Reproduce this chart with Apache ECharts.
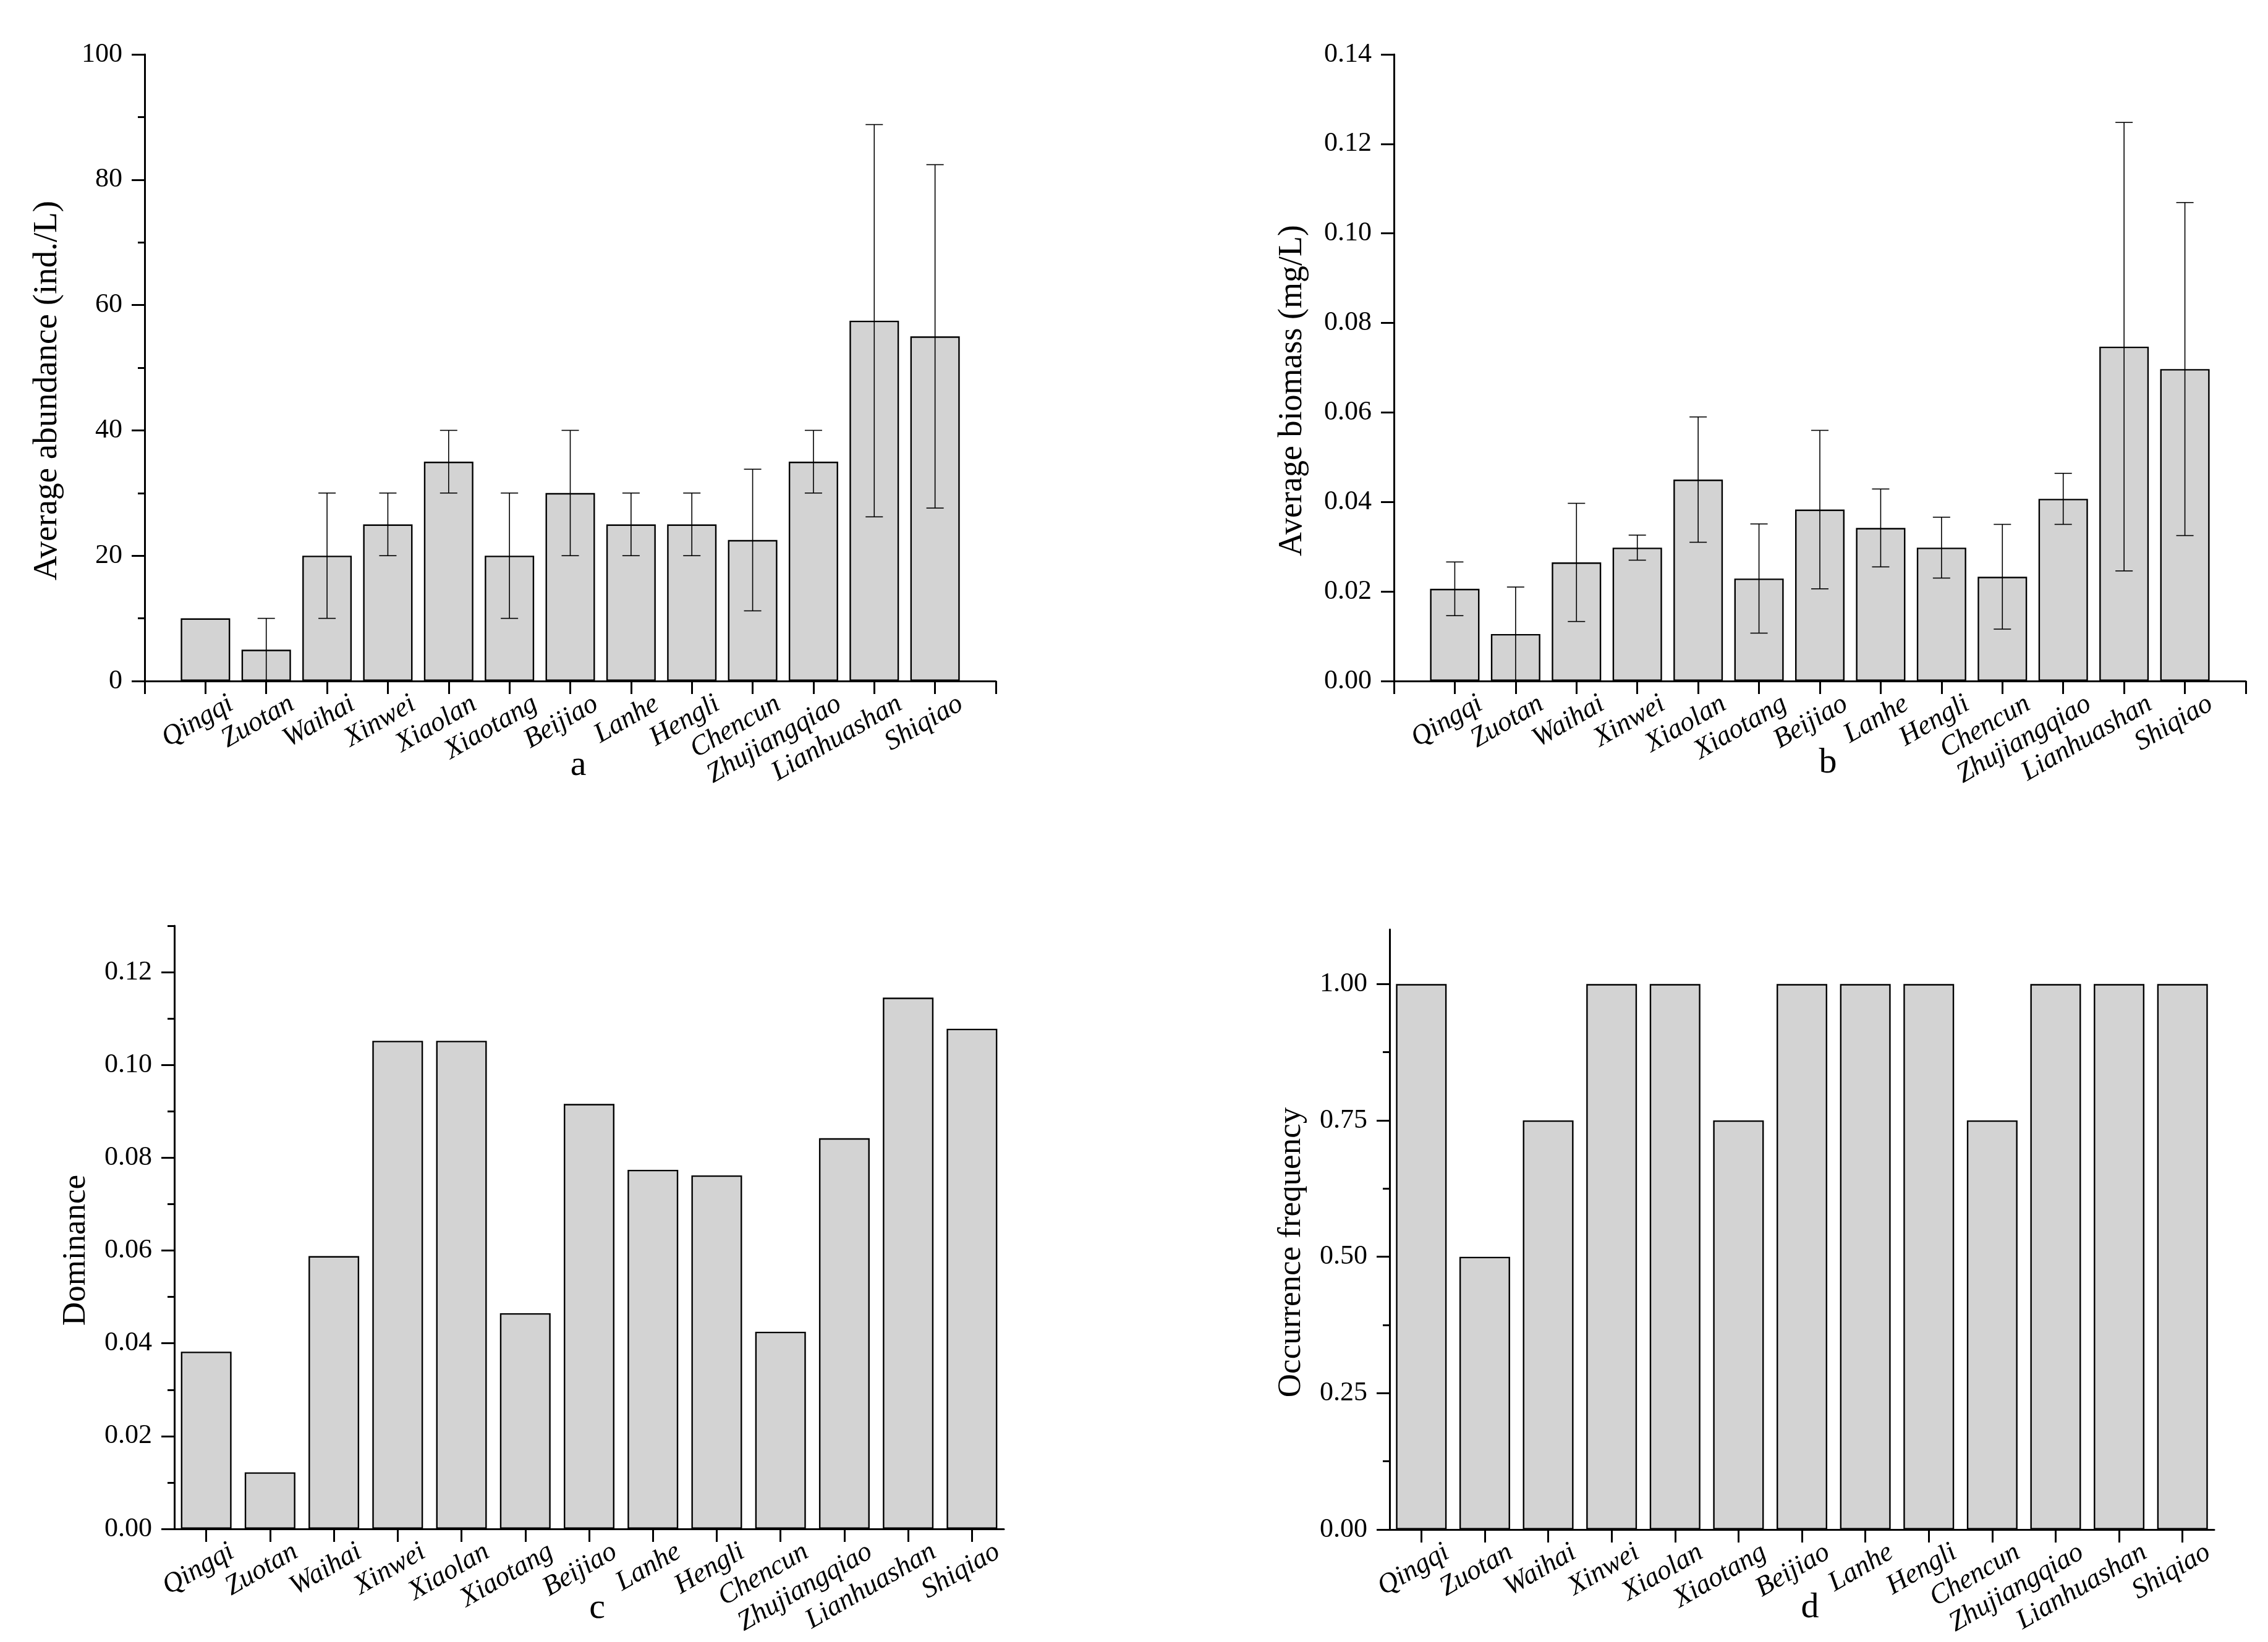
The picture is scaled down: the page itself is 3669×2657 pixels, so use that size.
<!DOCTYPE html>
<html><head><meta charset="utf-8">
<script src="https://cdn.jsdelivr.net/npm/echarts@6/dist/echarts.min.js"></script>
<style>html,body{margin:0;padding:0;background:#fff}#c{width:3669px;height:2657px}</style>
</head><body><div id="c"></div>
<script>
const categories = ['Qingqi','Zuotan','Waihai','Xinwei','Xiaolan','Xiaotang','Beijiao','Lanhe','Hengli','Chencun','Zhujiangqiao','Lianhuashan','Shiqiao'];

const abundance    = [10, 5, 20, 25, 35, 20, 30, 25, 25, 22.5, 35, 57.5, 55];
const abundanceErr = [0, 5, 10, 5, 5, 10, 10, 5, 5, 11.3, 5, 31.3, 27.4];

const biomass    = [0.0206, 0.0105, 0.0265, 0.0298, 0.0450, 0.0229, 0.0383, 0.0342, 0.0298, 0.0233, 0.0407, 0.0747, 0.0697];
const biomassErr = [0.0060, 0.0105, 0.0132, 0.0028, 0.0140, 0.0122, 0.0177, 0.0087, 0.0068, 0.0117, 0.0057, 0.0501, 0.0372];

const dominance = [0.0382, 0.0122, 0.0588, 0.1052, 0.1052, 0.0465, 0.0916, 0.0774, 0.0762, 0.0425, 0.0842, 0.1145, 0.1078];

const frequency = [1, 0.5, 0.75, 1, 1, 0.75, 1, 1, 1, 0.75, 1, 1, 1];

const aTicks = [0, 20, 40, 60, 80, 100];
const aMinor = [10, 30, 50, 70, 90];
const bTicks = [0, 0.02, 0.04, 0.06, 0.08, 0.10, 0.12, 0.14];
const bMinor = [];
const cTicks = [0, 0.02, 0.04, 0.06, 0.08, 0.10, 0.12];
const cMinor = [0.01, 0.03, 0.05, 0.07, 0.09, 0.11, 0.13];
const dTicks = [0, 0.25, 0.5, 0.75, 1.0];
const dMinor = [0.125, 0.375, 0.625, 0.875];

const FONT = '"Liberation Serif","Times New Roman",serif';

const panels = [
  {grid:{left:234, top:88, width:1377, height:1014}, padded:true, values:abundance, err:abundanceErr, max:100, ticks:aTicks, minor:aMinor, digits:0, yName:'Average abundance (ind./L)', xName:'a', barWidth:80, nameGap:130, ySize:55, xGap:108},
  {grid:{left:2255, top:88, width:1378, height:1014}, padded:true, values:biomass, err:biomassErr, max:0.14, ticks:bTicks, minor:bMinor, digits:2, yName:'Average biomass (mg/L)', xName:'b', barWidth:80, nameGap:137, ySize:54, xGap:104},
  {grid:{left:282, top:1498, width:1342, height:976}, padded:false, values:dominance, err:null, max:0.13, ticks:cTicks, minor:cMinor, digits:2, yName:'Dominance', xName:'c', barWidth:82, nameGap:132, ySize:53, xGap:100},
  {grid:{left:2248, top:1504, width:1334, height:971}, padded:false, values:frequency, err:null, max:1.1, ticks:dTicks, minor:dMinor, digits:2, yName:'Occurrence frequency', xName:'d', barWidth:82, nameGap:132, ySize:53, xGap:98}
];

const grid = [], xAxis = [], yAxis = [], series = [];
panels.forEach((p, g) => {
  grid.push(Object.assign({outerBoundsMode:'none', containLabel:false}, p.grid));
  xAxis.push({
    type:'category', gridIndex:g,
    data: p.padded ? [''].concat(categories, ['']) : categories,
    boundaryGap: !p.padded,
    axisLine:{show:true, onZero:false, lineStyle:{color:'#000', width:3}},
    axisTick:{show:true, length:21, inside:false, alignWithLabel:true, interval:0, lineStyle:{color:'#000', width:3}},
    axisLabel:{interval:0, rotate:30, align:'right', verticalAlign:'middle', margin:58,
      fontFamily:FONT, fontStyle:'italic', fontSize:45, color:'#000', padding:[0,-48,0,0]},
    splitLine:{show:false},
    name:p.xName, nameLocation:'middle', nameGap:p.xGap, nameMoveOverlap:false,
    nameTextStyle:{fontFamily:FONT, fontSize:58, color:'#000', padding:[0,0,0,26]}
  });
  const mainIdx = yAxis.length;
  yAxis.push({
    type:'value', gridIndex:g, min:0, max:p.max, position:'left',
    axisLine:{show:true, lineStyle:{color:'#000', width:3}},
    axisTick:{show:true, length:21, inside:false, customValues:p.ticks, lineStyle:{color:'#000', width:3}},
    axisLabel:{customValues:p.ticks, formatter:v => Number(v).toFixed(p.digits),
      fontFamily:FONT, fontSize:44, color:'#000', margin:36},
    splitLine:{show:false},
    name:p.yName, nameLocation:'middle', nameGap:p.nameGap, nameRotate:90,
    nameTextStyle:{fontFamily:FONT, fontSize:p.ySize, color:'#000', padding:[0,74,0,0]}
  });
  if (p.minor.length) {
    yAxis.push({
      type:'value', gridIndex:g, min:0, max:p.max, position:'left', offset:0,
      axisLine:{show:false}, axisLabel:{show:false}, splitLine:{show:false},
      axisTick:{show:true, length:11, inside:false, customValues:p.minor, lineStyle:{color:'#000', width:3}}
    });
  }
  const off = p.padded ? 1 : 0;
  series.push({
    type:'bar', xAxisIndex:g, yAxisIndex:mainIdx, barWidth:p.barWidth,
    data:p.values.map((v, i) => [i + off, v]),
    itemStyle:{color:'#d3d3d3', borderColor:'#000', borderWidth:2.4},
    animation:false, silent:true
  });
  if (p.err) {
    series.push({
      type:'custom', xAxisIndex:g, yAxisIndex:mainIdx, z:5,
      encode:{x:0, y:1},
      data:p.values.map((v, i) => [i + off, v, p.err[i]]),
      renderItem:(params, api) => {
        const x = api.value(0), v = api.value(1), e = api.value(2);
        if (!e) return null;
        const t = api.coord([x, v + e]);
        const b = api.coord([x, Math.max(0, v - e)]);
        const hw = 14;
        const st = {stroke:'#000', lineWidth:1.6};
        return {type:'group', children:[
          {type:'line', shape:{x1:t[0], y1:t[1], x2:b[0], y2:b[1]}, style:st},
          {type:'line', shape:{x1:t[0]-hw, y1:t[1], x2:t[0]+hw, y2:t[1]}, style:st},
          {type:'line', shape:{x1:b[0]-hw, y1:b[1], x2:b[0]+hw, y2:b[1]}, style:st}
        ]};
      },
      animation:false, silent:true
    });
  }
});

const chart = echarts.init(document.getElementById('c'), null, {renderer:'canvas'});
chart.setOption({backgroundColor:'#fff', animation:false, grid, xAxis, yAxis, series});
</script>
</body></html>
